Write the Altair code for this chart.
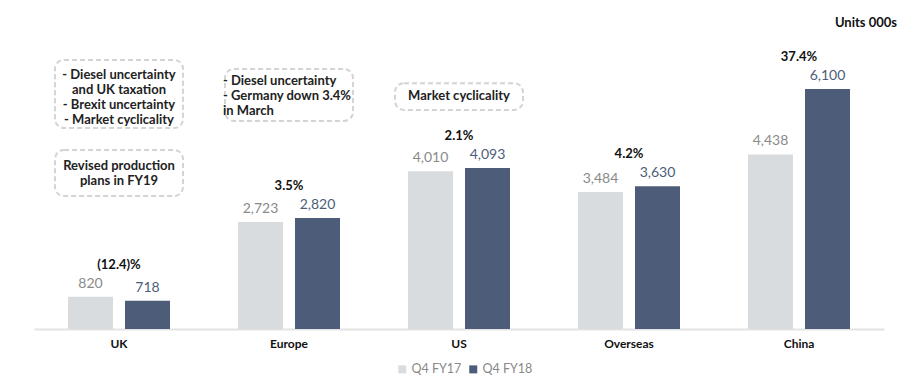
import altair as alt
import pandas as pd

regions = ["UK", "Europe", "US", "Overseas", "China"]
series = ["Q4 FY17", "Q4 FY18"]
fy17 = [820, 2723, 4010, 3484, 4438]
fy18 = [718, 2820, 4093, 3630, 6100]
growth = ["(12.4)%", "3.5%", "2.1%", "4.2%", "37.4%"]

note_regions = ["UK", "Europe", "US", "UK"]
note_texts = [
    "- Diesel uncertainty\nand UK taxation\n- Brexit uncertainty\n- Market cyclicality",
    "- Diesel uncertainty\n- Germany down 3.4%\n\u00a0\u00a0in March",
    "Market cyclicality",
    "Revised production\nplans in FY19",
]
note_align = ["center", "left", "center", "center"]
note_top = [6840, 6610, 6250, 4550]
note_bottom = [5110, 5290, 5570, 3380]
note_first_line = [6457, 6304, 5923, 4143]

FONT = "Lato"
LIGHT = "#d8dcdf"
DARK = "#4d5d79"

rows = []
for r, a, b in zip(regions, fy17, fy18):
    rows.append({"region": r, "series": series[0], "value": a, "label": f"{a:,}"})
    rows.append({"region": r, "series": series[1], "value": b, "label": f"{b:,}"})
df = pd.DataFrame(rows)

gdf = pd.DataFrame({"region": regions, "growth": growth,
                    "value": [max(a, b) for a, b in zip(fy17, fy18)]})

ndf = pd.DataFrame({"region": note_regions, "note": note_texts, "align": note_align,
                    "value": note_top, "lower": note_bottom,
                    "first": note_first_line})

xscale = alt.Scale(domain=regions, paddingInner=0, paddingOuter=0)
yscale = alt.Scale(domain=[0, 7143], nice=False, zero=True)
x = alt.X("region:N", scale=xscale, sort=regions,
          axis=alt.Axis(title=None, labelAngle=0, ticks=False, domainColor="#e3e3e3",
                        domainWidth=2, labelFont=FONT, labelFontSize=12,
                        labelFontWeight="bold", labelColor="#111", labelPadding=9))
y = alt.Y("value:Q", scale=yscale, axis=None)
color = alt.Color("series:N", sort=series,
                  scale=alt.Scale(domain=series, range=[LIGHT, DARK]),
                  legend=alt.Legend(title=None, orient="none", direction="horizontal",
                                    legendX=362, legendY=315, symbolType="square",
                                    symbolSize=64, labelFont=FONT, labelFontSize=12.5,
                                    labelColor="#888", columnPadding=5, labelOffset=3,
                                    symbolStrokeWidth=0))

base = alt.Chart(df)
layers = []
for s, off, lc in [(series[0], -28.5, "#8a8a8a"), (series[1], 28.5, DARK)]:
    sub = base.transform_filter(alt.datum.series == s)
    layers.append(sub.mark_bar(width=45, xOffset=off).encode(x=x, y=y, color=color))
    layers.append(sub.mark_text(dy=-13, xOffset=off, font=FONT, fontSize=14,
                                baseline="middle", color=lc).encode(
        x=x, y=y, text="label:N"))

pct = alt.Chart(gdf).mark_text(dy=-32, font=FONT, fontSize=13, fontWeight="bold",
                               color="#111", baseline="middle").encode(
    x=x, y=y, text="growth:N")

boxes = alt.Chart(ndf).mark_bar(width=128, fill="white", fillOpacity=0, stroke="#d4d4d4",
                                strokeWidth=2, strokeDash=[5, 3], cornerRadius=9).encode(
    x=x, y=y, y2=alt.Y2("lower"))

nbase = alt.Chart(ndf)
note_layers = []
for al, off in [("center", 0), ("left", -66)]:
    note_layers.append(
        nbase.transform_filter(alt.datum.align == al).mark_text(
            font=FONT, fontSize=13, fontWeight="bold", color="#222", align=al,
            xOffset=off, lineBreak="\n", lineHeight=15, baseline="middle").encode(
            x=x, y=alt.Y("first:Q", scale=yscale, axis=None), text="note:N"))

chart = alt.layer(boxes, *note_layers, *layers, pct).properties(
    width=850, height=281,
    padding={"left": 26, "top": 40, "right": 30, "bottom": 54},
    autosize=alt.AutoSizeParams(type="none"),
    title=alt.TitleParams("Units 000s", anchor="end", font=FONT, fontSize=13,
                          fontWeight="bold", color="#111", offset=18, dx=13),
).configure_view(stroke=None)

chart.save("out.html", embed_options={"renderer": "svg", "actions": False})
